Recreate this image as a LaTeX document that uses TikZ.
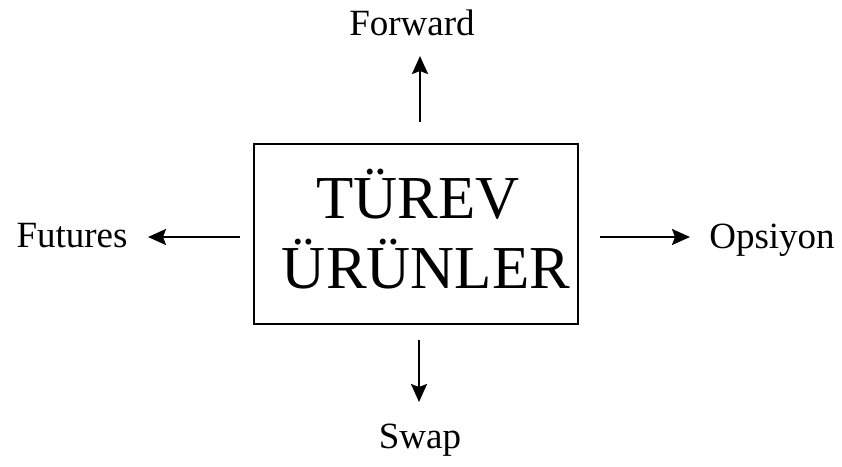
\documentclass[tikz,border=0pt]{standalone}
\usepackage{fontspec}
\setmainfont{Liberation Serif}
\usetikzlibrary{arrows.meta}
\begin{document}
\begin{tikzpicture}[x=1pt,y=1pt,
  lbl/.style={font=\fontsize{37}{40}\selectfont, inner sep=0pt},
  big/.style={font=\fontsize{61}{70}\selectfont, inner sep=0pt, anchor=base},
  arr/.style={line width=2pt, -{Stealth[length=18pt,width=16pt,inset=3pt]}}]
\useasboundingbox (0,0) rectangle (842,-466);
\node[draw, line width=2pt, minimum width=324pt, minimum height=180pt, inner sep=0pt] (box) at (416,-234) {};
\node[big] (t) at (418,-218) {TÜREV};
\node[big] (u) at (426,-288) {ÜRÜNLER};
\node[lbl, anchor=base] (fwd) at (412,-35) {Forward};
\node[lbl, anchor=base] (fut) at (72,-247) {Futures};
\node[lbl, anchor=base] (ops) at (772,-248) {Opsiyon};
\node[lbl, anchor=base] (swp) at (420,-448) {Swap};
\coordinate (t1) at (420,-122); \coordinate (t2) at (420,-56);
\coordinate (l1) at (240,-237); \coordinate (l2) at (148,-237);
\coordinate (r1) at (600,-237); \coordinate (r2) at (690,-237);
\coordinate (d1) at (419,-340); \coordinate (d2) at (419,-402);
\draw[arr] (t1) -- (t2);
\draw[arr] (l1) -- (l2);
\draw[arr] (r1) -- (r2);
\draw[arr] (d1) -- (d2);
\end{tikzpicture}
\end{document}
